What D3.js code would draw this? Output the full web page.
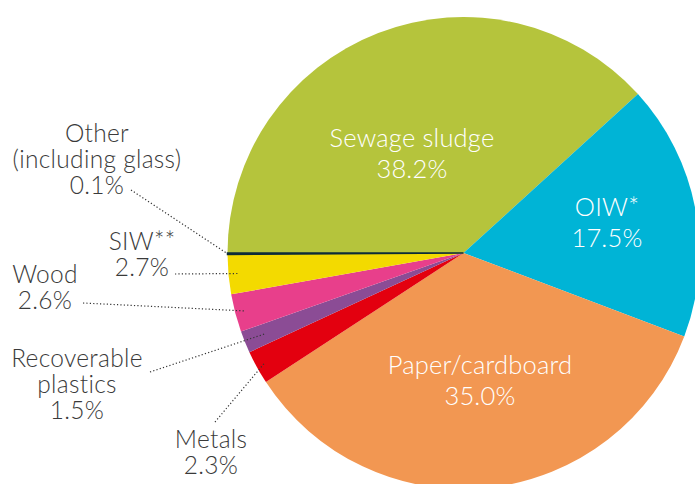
<!DOCTYPE html>
<html><head><meta charset="utf-8">
<script src="https://cdn.jsdelivr.net/npm/d3@7"></script>
<style>
html,body{margin:0;padding:0;background:#fff;}
svg{display:block;}
text{font-family:Lato,"Open Sans",sans-serif;font-weight:300;}
</style></head>
<body>
<svg id="chart" width="695" height="484"></svg>
<script>
// Data
const categories = ["Sewage sludge","OIW*","Paper/cardboard","Metals","Recoverable plastics","Wood","SIW**","Other (including glass)"];
const values = [38.2, 17.5, 35.0, 2.3, 1.5, 2.6, 2.7, 0.1];
const colors = ["#b5c43c","#00b4d6","#f29752","#e3000f","#8b4c95","#e83f8b","#f3da00","#0c2b38"];

// Label layout (lines, anchor position)
const insideLabels = [
  {i:0, lines:["Sewage sludge","38.2%"], x:412, y:147},
  {i:1, lines:["OIW*","17.5%"], x:607, y:216},
  {i:2, lines:["Paper/cardboard","35.0%"], x:480, y:374}
];
const outsideLabels = [
  {i:7, lines:["Other","(including glass)","0.1%"], x:97, y:142, lx:131, ly:190, r:236},
  {i:6, lines:["SIW**","2.7%"], x:142, y:250, lx:175, ly:274, r:225},
  {i:5, lines:["Wood","2.6%"], x:45, y:283, lx:83, ly:303, r:227},
  {i:4, lines:["Recoverable","plastics","1.5%"], x:77, y:367, lx:150, ly:372, r:214},
  {i:3, lines:["Metals","2.3%"], x:211, y:448, lx:215, ly:422, r:228}
];

const svg = d3.select("#chart");
const cx = 463.5, cy = 253, R = 236;
const g = svg.append("g").attr("transform", `translate(${cx},${cy})`);

const pie = d3.pie().sort(null).value(d => d.v)
  .startAngle(-Math.PI/2).endAngle(3*Math.PI/2);
const data = categories.map((c,i)=>({c, v:values[i], col:colors[i]}));
const arcs = pie(data);
const arc = d3.arc().innerRadius(0).outerRadius(R);

g.selectAll("path.slice").data(arcs).join("path")
  .attr("class","slice")
  .attr("d", arc)
  .attr("fill", d => d.data.col)
  .attr("stroke", d => d.data.v < 0.5 ? d.data.col : "none")
  .attr("stroke-width", 1.5);

// inside labels
insideLabels.forEach(l => {
  const t = svg.append("text").attr("text-anchor","middle")
    .attr("fill","#fff").attr("font-size",25.5).attr("letter-spacing",0.2);
  l.lines.forEach((s,k)=> t.append("tspan").attr("x",l.x).attr("y",l.y + k*31).text(s));
});

// outside labels + leaders
outsideLabels.forEach(l => {
  const a = arcs[l.i];
  const mid = (a.startAngle + a.endAngle)/2;
  const ex = cx + l.r*Math.sin(mid), ey = cy - l.r*Math.cos(mid);
  svg.append("line").attr("x1",l.lx).attr("y1",l.ly).attr("x2",ex).attr("y2",ey)
    .attr("stroke","#333").attr("stroke-width",1.2).attr("stroke-dasharray","1.2,2.2");
  const t = svg.append("text").attr("text-anchor","middle")
    .attr("fill","#3a3a3a").attr("font-size",24.5).attr("letter-spacing",0.3);
  l.lines.forEach((s,k)=> t.append("tspan").attr("x",l.x).attr("y",l.y + k*26).text(s));
});
</script>
</body></html>
